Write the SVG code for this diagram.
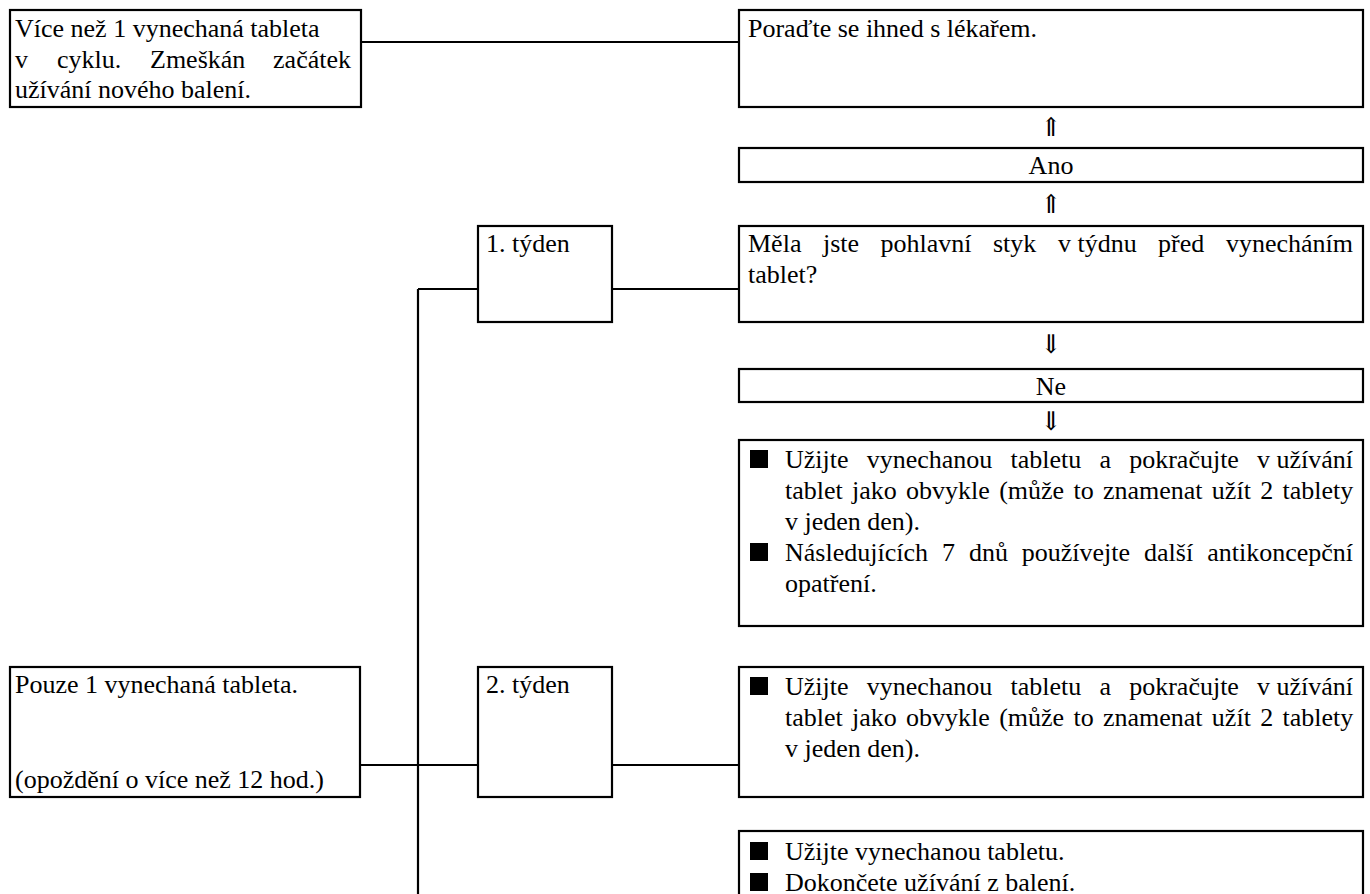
<svg xmlns="http://www.w3.org/2000/svg" width="1370" height="894" viewBox="0 0 1370 894">
<style>
  .box { fill: #ffffff; stroke: #000000; stroke-width: 2.2; }
  .t { font-family: "Liberation Serif", "Times New Roman", serif; font-size: 26px; fill: #000000; }
  .e { text-anchor: end; }
  .c { text-anchor: middle; }
  .arr { font-family: "DejaVu Serif", "DejaVu Sans", serif; font-size: 26px; fill: #000000; text-anchor: middle; }
  .ln { stroke: #000000; stroke-width: 2.2; fill: none; }
  .bul { fill: #000000; }
</style>
<defs>
  <rect id="sq" width="18" height="18" class="bul"/>
</defs>
<rect width="1370" height="894" fill="#ffffff"/>

<g id="connectors">
  <line class="ln" x1="361" y1="42" x2="739" y2="42"/>
  <line class="ln" x1="418" y1="289" x2="418" y2="894"/>
  <line class="ln" x1="418" y1="289" x2="478" y2="289"/>
  <line class="ln" x1="612" y1="289" x2="739" y2="289"/>
  <line class="ln" x1="360" y1="765" x2="478" y2="765"/>
  <line class="ln" x1="612" y1="765" x2="739" y2="765"/>
  <text class="arr" x="1051" y="136">⇑</text>
  <text class="arr" x="1051" y="213">⇑</text>
  <text class="arr" x="1051" y="353">⇓</text>
  <text class="arr" x="1051" y="430">⇓</text>
</g>

<g id="more-than-one">
  <rect class="box" x="10" y="10" width="351" height="97"/>
  <text class="t" x="15" y="37">Více než 1 vynechaná tableta</text>
  <text class="t" y="68"><tspan x="15">v</tspan><tspan x="57">cyklu.</tspan><tspan x="150">Zmeškán</tspan></text>
  <text class="t e" x="351" y="68">začátek</text>
  <text class="t" x="15" y="98">užívání nového balení.</text>
</g>

<g id="consult">
  <rect class="box" x="739" y="10" width="624" height="97"/>
  <text class="t" x="748" y="37">Poraďte se ihned s lékařem.</text>
</g>

<g id="ano">
  <rect class="box" x="739" y="148" width="624" height="34"/>
  <text class="t c" x="1051" y="174">Ano</text>
</g>

<g id="week1">
  <rect class="box" x="478" y="226" width="134" height="96"/>
  <text class="t" x="486" y="252">1. týden</text>
</g>

<g id="question">
  <rect class="box" x="739" y="226" width="624" height="96"/>
  <text class="t" y="252"><tspan x="748">Měla</tspan><tspan x="823">jste</tspan><tspan x="880.5">pohlavní</tspan><tspan x="993">styk</tspan><tspan x="1058">v týdnu</tspan><tspan x="1158">před</tspan></text>
  <text class="t e" x="1353" y="252">vynecháním</text>
  <text class="t" x="748" y="283">tablet?</text>
</g>

<g id="ne">
  <rect class="box" x="739" y="369" width="624" height="33"/>
  <text class="t c" x="1051" y="395">Ne</text>
</g>

<g id="week1-advice">
  <rect class="box" x="739" y="440" width="624" height="186"/>
  <use href="#sq" x="750" y="450"/>
  <text class="t" y="468"><tspan x="785">Užijte</tspan><tspan x="866.7">vynechanou</tspan><tspan x="1010.5">tabletu</tspan><tspan x="1099.5">a</tspan><tspan x="1129.2">pokračujte</tspan></text>
  <text class="t e" x="1353" y="468">v užívání</text>
  <text class="t" x="785" y="499" word-spacing="2.8">tablet jako obvykle (může to znamenat užít 2 tablety</text>
  <text class="t" x="785" y="530">v jeden den).</text>
  <use href="#sq" x="750" y="543"/>
  <text class="t" y="561"><tspan x="785">Následujících</tspan><tspan x="942">7</tspan><tspan x="969">dnů</tspan><tspan x="1021.7">používejte</tspan><tspan x="1144">další</tspan></text>
  <text class="t e" x="1353" y="561">antikoncepční</text>
  <text class="t" x="785" y="592">opatření.</text>
</g>

<g id="only-one">
  <rect class="box" x="10" y="667" width="350" height="130"/>
  <text class="t" x="15" y="693">Pouze 1 vynechaná tableta.</text>
  <text class="t" x="15" y="788">(opoždění o více než 12 hod.)</text>
</g>

<g id="week2">
  <rect class="box" x="478" y="667" width="134" height="130"/>
  <text class="t" x="486" y="693">2. týden</text>
</g>

<g id="week2-advice">
  <rect class="box" x="739" y="667" width="624" height="130"/>
  <use href="#sq" x="750" y="677"/>
  <text class="t" y="695"><tspan x="785">Užijte</tspan><tspan x="866.7">vynechanou</tspan><tspan x="1010.5">tabletu</tspan><tspan x="1099.5">a</tspan><tspan x="1129.2">pokračujte</tspan></text>
  <text class="t e" x="1353" y="695">v užívání</text>
  <text class="t" x="785" y="726" word-spacing="2.8">tablet jako obvykle (může to znamenat užít 2 tablety</text>
  <text class="t" x="785" y="757">v jeden den).</text>
</g>

<g id="week3-advice">
  <rect class="box" x="739" y="831" width="624" height="90"/>
  <use href="#sq" x="750" y="842"/>
  <text class="t" x="785" y="860">Užijte vynechanou tabletu.</text>
  <use href="#sq" x="750" y="873"/>
  <text class="t" x="785" y="891">Dokončete užívání z balení.</text>
</g>
</svg>
